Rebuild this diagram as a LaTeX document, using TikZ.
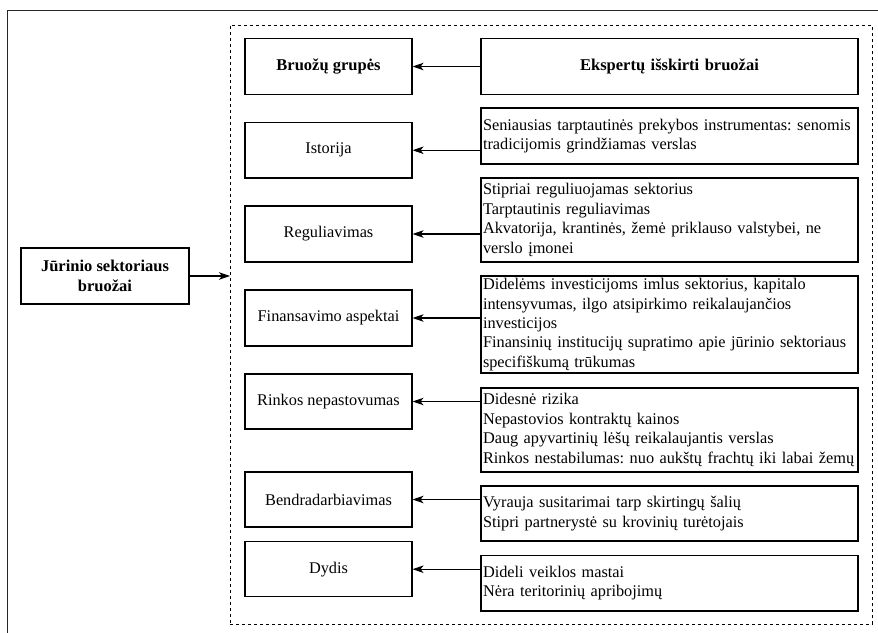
\documentclass[tikz,border=0pt]{standalone}
\usepackage{fontspec}
\setmainfont{Liberation Serif}
\usetikzlibrary{arrows.meta}
\hyphenpenalty=10000
\exhyphenpenalty=10000
\frenchspacing
% one unbreakable line of text inside a box
\newcommand\fline[1]{\mbox{#1}}
\begin{document}
\begin{tikzpicture}[x=1pt,y=-1pt,
  every node/.style={font=\fontsize{16.3}{19.4}\selectfont\frenchspacing},
  groupbox/.style={draw, line width=1.1pt, minimum width=167pt, minimum height=56pt,
    inner sep=1pt, align=center},
  featbox/.style={draw, line width=1.1pt, text width=373pt, inner xsep=2pt,
    inner ysep=0pt, align=left},
  link/.style={line width=1.1pt, -{Stealth[length=11pt,width=7.5pt,inset=3pt]}},
  frame/.style={line width=1pt, draw=black!85},
]
\useasboundingbox (0,0) rectangle (878,632);
\fill[white] (0,0) rectangle (878,632);

% outer frame (only its top and left sides fall inside the page)
\draw[frame] (7,650) -- (7,10) -- (900,10);

% dashed group frame
\node[draw, dashed, dash pattern=on 3pt off 3pt, line width=1pt, outer sep=0pt,
      minimum width=642pt, minimum height=599pt] (grp) at (551,324.5) {};

% main node
\node[draw, line width=1.1pt, minimum width=168pt, minimum height=56pt, align=center,
      font=\fontsize{16.5}{20}\selectfont\bfseries] (jur) at (105,276)
      {Jūrinio sektoriaus\\bruožai};
\draw[link] (jur.east) -- (jur.east -| grp.west);

% header row
\node[groupbox, font=\fontsize{16.5}{19.4}\selectfont\bfseries] (hdrL) at (328.5,66.5) {Bruožų grupės};
\node[featbox, minimum height=56pt, align=center, font=\fontsize{16.5}{19.4}\selectfont\bfseries]
      (hdrR) at (669.5,66.5) {Ekspertų išskirti bruožai};

% group boxes
\node[groupbox, minimum height=55.5pt] (istL) at (328.5,150.25) {Istorija};
\node[groupbox] (regL) at (328.5,234) {Reguliavimas};
\node[groupbox] (finL) at (328.5,318) {Finansavimo aspektai};
\node[groupbox, minimum height=55pt] (rinL) at (328.5,401.5) {Rinkos nepastovumas};
\node[groupbox, minimum height=55pt] (benL) at (328.5,499.5) {Bendradarbiavimas};
\node[groupbox, minimum height=55pt] (dydL) at (328.5,569.2) {Dydis};

% feature boxes
\node[featbox, minimum height=56pt] (istR) at (669.5,136)
  {\fline{Seniausias tarptautinės prekybos instrumentas: senomis}\\
   \fline{tradicijomis grindžiamas verslas}};
\node[featbox, minimum height=84pt] (regR) at (669.5,220)
  {\fline{Stipriai reguliuojamas sektorius}\\
   \fline{Tarptautinis reguliavimas}\\
   \fline{Akvatorija, krantinės, žemė priklauso valstybei, ne}\\
   \fline{verslo įmonei}};
\node[featbox, minimum height=97pt] (finR) at (669.5,324.5)
  {\fline{Didelėms investicijoms imlus sektorius, kapitalo}\\
   \fline{intensyvumas, ilgo atsipirkimo reikalaujančios}\\
   \fline{investicijos}\\
   \fline{Finansinių institucijų supratimo apie jūrinio sektoriaus}\\
   \fline{specifiškumą trūkumas}};
\node[featbox, minimum height=84pt] (rinR) at (669.5,430)
  {\fline{Didesnė rizika}\\
   \fline{Nepastovios kontraktų kainos}\\
   \fline{Daug apyvartinių lėšų reikalaujantis verslas}\\
   \fline{Rinkos nestabilumas: nuo aukštų frachtų iki labai žemų}};
\node[featbox, minimum height=55pt] (benR) at (669.5,513.5)
  {\fline{Vyrauja susitarimai tarp skirtingų šalių}\\
   \fline{Stipri partnerystė su krovinių turėtojais}};
\node[featbox, minimum height=55.3pt] (dydR) at (669.5,583.3)
  {\fline{Dideli veiklos mastai}\\
   \fline{Nėra teritorinių apribojimų}};

% connectors from features to groups
\draw[link] (hdrR.west) -- (hdrL.east);
\foreach \g in {ist,reg,fin,rin,ben,dyd}
  \draw[link] (\g R.west |- \g L.east) -- (\g L.east);
\end{tikzpicture}
\end{document}
